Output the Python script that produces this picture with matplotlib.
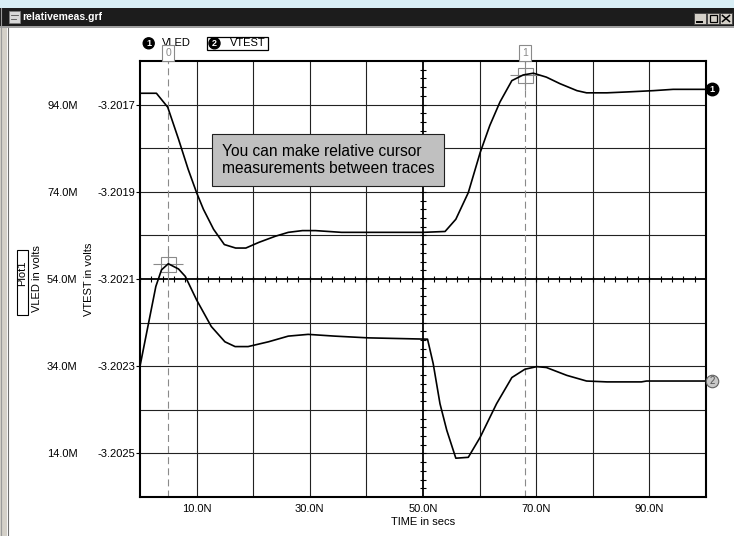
import numpy as np
import matplotlib
matplotlib.use("Agg")
import matplotlib.pyplot as plt
from matplotlib.patches import Rectangle, Circle
from matplotlib.transforms import offset_copy

plt.rcParams['font.family'] = ['Liberation Sans', 'DejaVu Sans']
plt.rcParams['lines.scale_dashes'] = False

# trace 1: VLED, time in ns, value in mV
t_vled = [0.0, 2.9, 4.9, 6.8, 8.5, 10.0, 11.2, 13.0, 14.9, 16.9, 18.7, 21.0,
          23.9, 26.2, 28.7, 31.0, 35.6, 40.6, 50.0, 53.9, 55.8, 58.0, 60.1,
          61.8, 63.6, 65.7, 67.7, 69.5, 71.8, 74.2, 77.2, 78.9, 82.5, 86.0,
          90.7, 94.2, 100.0]
vled_mv = [96.6, 96.6, 93.4, 86.1, 79.2, 73.8, 70.0, 65.4, 61.9, 61.1, 61.1,
           62.4, 63.8, 64.7, 65.1, 65.1, 64.7, 64.7, 64.7, 64.9, 67.7, 73.8,
           83.0, 89.2, 94.6, 99.5, 100.8, 101.2, 100.3, 98.8, 97.2, 96.7, 96.7,
           96.9, 97.2, 97.5, 97.5]

# trace 2: VTEST, time in ns, value in volts
t_vtest = [0.0, 2.8, 3.8, 5.0, 6.8, 8.0, 10.0, 12.6, 15.0, 16.8, 19.1, 22.7,
           26.2, 29.7, 34.4, 40.3, 50.8, 51.8, 53.0, 54.2, 55.8, 58.0, 60.1,
           63.0, 65.7, 68.0, 70.1, 71.8, 75.4, 78.9, 82.5, 88.6, 89.5, 100.0]
vtest = [-3.202300, -3.202117, -3.202079, -3.202065, -3.202077, -3.202094,
         -3.202148, -3.202209, -3.202244, -3.202255, -3.202255, -3.202244,
         -3.202231, -3.202227, -3.202231, -3.202235, -3.202238, -3.202294,
         -3.202386, -3.202447, -3.202511, -3.202509, -3.202463, -3.202386,
         -3.202326, -3.202307, -3.202301, -3.202303, -3.202321, -3.202334,
         -3.202336, -3.202336, -3.202334, -3.202334]

x_grid = [10, 20, 30, 40, 60, 70, 80, 90]
x_labels = [10, 30, 50, 70, 90]
y_grid_mv = [14, 24, 34, 44, 64, 74, 84, 94]
vled_ticks_mv = [14, 34, 54, 74, 94]
vtest_ticks = [-3.2025, -3.2023, -3.2021, -3.2019, -3.2017]
cursor_t = [5.0, 68.0]

W, H = 734, 536
fig = plt.figure(figsize=(W / 100, H / 100), dpi=100)
fig.patch.set_facecolor('white')

# window frame, drawn in pixel units
win = fig.add_axes([0, 0, 1, 1])
win.set_xlim(0, W)
win.set_ylim(H, 0)
win.axis('off')
win.set_zorder(0)
win.add_patch(Rectangle((0, 0), W, 8, color='#d8eef5', lw=0))
win.add_patch(Rectangle((0, 8), W, 18, color='#1c1c1c', lw=0))
win.add_patch(Rectangle((0, 26), W, 2, color='#a0a0a0', lw=0))
win.add_patch(Rectangle((0, 28), 7, H - 28, color='#d4d0c8', lw=0))
win.plot([1, 1], [8, H], color='#9a9a9a', lw=0.8)
win.plot([7.5, 7.5], [28, H], color='#707070', lw=0.8)
win.add_patch(Rectangle((9, 11), 11, 12, fc='#d8d8d8', ec='#808080', lw=0.5))
win.plot([11, 18], [15, 15], color='#505050', lw=0.6)
win.plot([11, 16], [19, 19], color='#505050', lw=0.6)
win.text(22, 17.5, 'relativemeas.grf', color='white', fontweight='bold',
         fontsize=7.5, ha='left', va='center')
for bx in [694, 707, 720]:
    win.add_patch(Rectangle((bx, 13), 12, 11, fc='#d4d0c8', ec='#404040', lw=0.6))
win.plot([697, 702], [21.5, 21.5], color='k', lw=1.4)
win.add_patch(Rectangle((709.5, 15), 7, 7, fc='none', ec='k', lw=0.9))
win.plot([722.5, 729.5], [15.5, 21.5], color='k', lw=1.1)
win.plot([722.5, 729.5], [21.5, 15.5], color='k', lw=1.1)

# trace legend
win.add_patch(Circle((148.7, 43.3), 5.5, color='black'))
win.text(148.7, 43.6, '1', color='white', fontsize=6.5, fontweight='bold',
         ha='center', va='center')
win.text(162, 43.5, 'VLED', fontsize=8, ha='left', va='center')
win.add_patch(Rectangle((207, 37), 61, 12.5, fc='none', ec='black', lw=0.9))
win.add_patch(Circle((214.5, 43.3), 5.5, color='black'))
win.text(214.5, 43.6, '2', color='white', fontsize=6.5, fontweight='bold',
         ha='center', va='center')
win.text(230, 43.5, 'VTEST', fontsize=8, ha='left', va='center')

# vertical axis titles
win.add_patch(Rectangle((16.7, 250), 11, 65, fc='white', ec='black', lw=0.8))
win.text(22.2, 273.5, 'Plot1', rotation=90, fontsize=8, ha='center', va='center')
win.text(37, 279, 'VLED in volts', rotation=90, fontsize=8, ha='center', va='center')
win.text(89, 279, 'VTEST in volts', rotation=90, fontsize=8, ha='center', va='center')

# plot area
ax = fig.add_axes([140 / W, (H - 497) / H, 566 / W, 436 / H])
ax.set_zorder(1)
ax.set_xlim(0, 100)
ax.set_ylim(0.004, 0.104)
ax2 = ax.twinx()
ax2.set_zorder(2)
ax2.set_ylim(-3.2026, -3.2016)
for s in ax.spines.values():
    s.set_linewidth(1.5)
for s in ax2.spines.values():
    s.set_visible(False)

for t in x_grid:
    ax.axvline(t, color='#222222', lw=0.8, zorder=1)
for v in y_grid_mv:
    ax.axhline(v / 1000, color='#222222', lw=0.8, zorder=1)
ax.axvline(50, color='k', lw=1.3, zorder=1.5)
ax.axhline(0.054, color='k', lw=1.3, zorder=1.5)
tick_t = np.arange(0, 101, 2)
ax.plot(tick_t, np.full(len(tick_t), 0.054), ls='none', marker='|', ms=4.8,
        mew=0.8, color='k', zorder=1.5)
tick_v = np.arange(4, 105, 2) / 1000
ax.plot(np.full(len(tick_v), 50), tick_v, ls='none', marker='_', ms=4.8,
        mew=0.8, color='k', zorder=1.5)

ax.set_xticks(x_labels)
ax.set_xticklabels([f'{v:.1f}N' for v in x_labels])
ax.tick_params(axis='x', length=0, pad=5, labelsize=8)
ax.set_xlabel('TIME in secs', fontsize=8, labelpad=2)

ax.set_yticks(np.array(vled_ticks_mv) / 1000)
ax.set_yticklabels([f'{v:.1f}M' for v in vled_ticks_mv])
ax.tick_params(axis='y', direction='out', length=3, width=0.8, pad=42, labelsize=8)
ax2.yaxis.tick_left()
ax2.set_yticks(vtest_ticks)
ax2.set_yticklabels([f'{v:.4f}' for v in vtest_ticks])
ax2.tick_params(axis='y', length=0, pad=3.6, labelsize=8)

vled = np.array(vled_mv) / 1000
ax.plot(t_vled, vled, color='k', lw=1.2, zorder=3)
ax2.plot(t_vtest, vtest, color='k', lw=1.2, zorder=3)

# cursors: 0 sits on VTEST, 1 sits on VLED
cur_gray = '#8a8a8a'
for i, t in enumerate(cursor_t):
    ax.axvline(t, color=cur_gray, lw=0.8, dashes=(5, 3), zorder=2)
    ax.annotate(str(i), xy=(t, 1), xycoords=('data', 'axes fraction'),
                xytext=(0, 8), textcoords='offset pixels', ha='center',
                va='center', color=cur_gray, fontsize=7.5, annotation_clip=False,
                bbox=dict(boxstyle='square,pad=0.3', fc='white', ec=cur_gray, lw=0.8))
c0 = np.interp(cursor_t[0], t_vtest, vtest)
ax2.plot(cursor_t[0], c0, marker='s', ms=10.8, mfc='none', mec=cur_gray, mew=0.8)
ax2.plot(cursor_t[0], c0, marker='+', ms=22, mec=cur_gray, mew=0.8)
c1 = np.interp(cursor_t[1], t_vled, vled)
ax.plot(cursor_t[1], c1, marker='s', ms=10.8, mfc='none', mec=cur_gray, mew=0.8)
ax.plot(cursor_t[1], c1, marker='+', ms=22, mec=cur_gray, mew=0.8)

# trace end tags
tag1 = offset_copy(ax.transData, fig=fig, x=5.5, y=0, units='dots')
ax.plot(t_vled[-1], vled[-1], marker='o', ms=9, color='k', transform=tag1,
        clip_on=False, zorder=4)
ax.text(t_vled[-1], vled[-1], '1', transform=tag1, color='white', fontsize=6.5,
        fontweight='bold', ha='center', va='center', zorder=5)
tag2 = offset_copy(ax2.transData, fig=fig, x=6, y=0, units='dots')
ax2.plot(t_vtest[-1], vtest[-1], marker='o', ms=9, mfc='#c8c8c8', mec='#606060',
         mew=0.8, transform=tag2, clip_on=False, zorder=4)
ax2.text(t_vtest[-1], vtest[-1], '2', transform=tag2, color='#505050',
         fontsize=7, ha='center', va='center', zorder=5)

ax.text(0.1443, 0.773, 'You can make relative cursor\nmeasurements between traces',
        transform=ax.transAxes, fontsize=11.2, ha='left', va='center', linespacing=1.22,
        bbox=dict(boxstyle='square,pad=0.62', fc='#c0c0c0', ec='#202020', lw=0.8),
        zorder=6)

fig.savefig('out.png', dpi=100, facecolor='white')
